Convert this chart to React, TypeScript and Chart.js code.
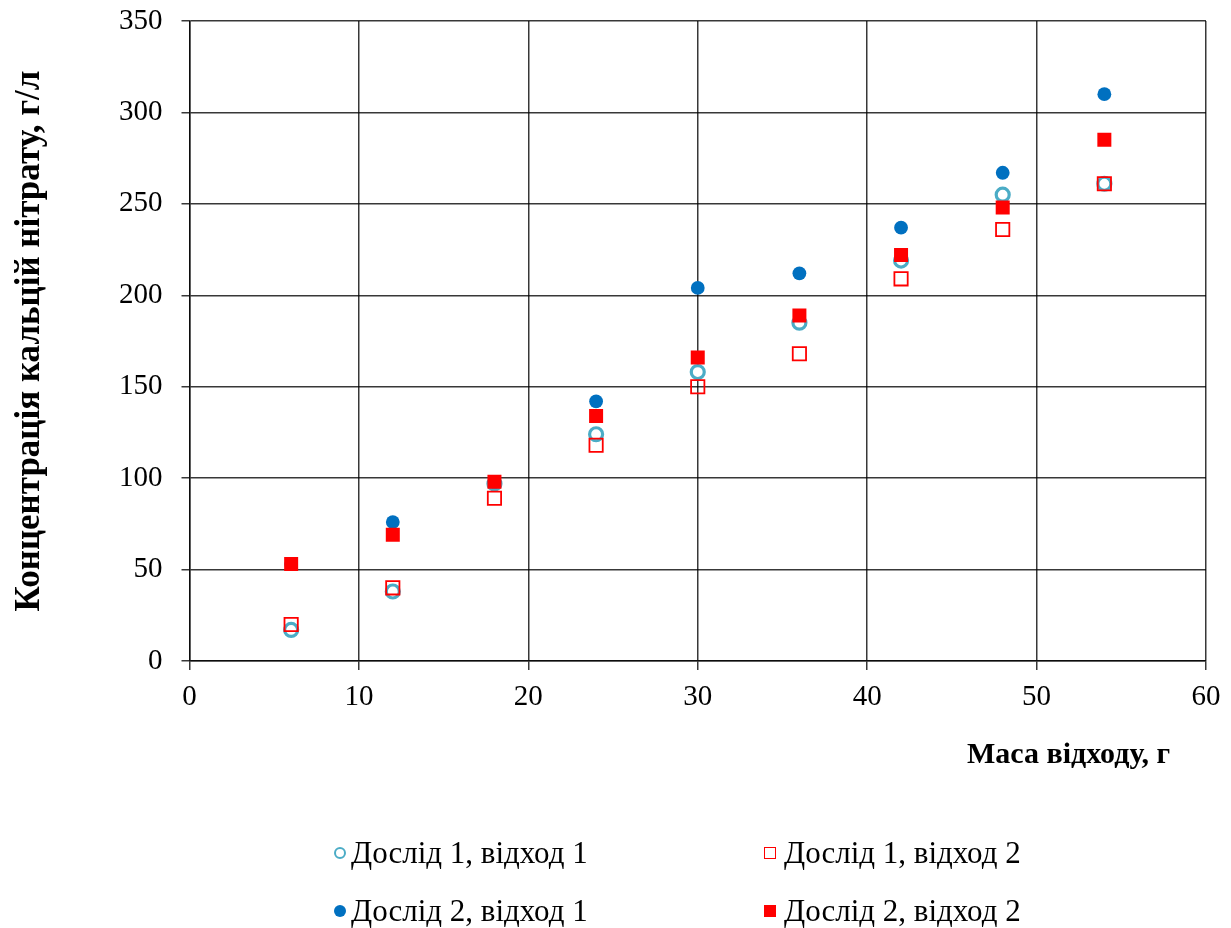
import React, { useEffect, useRef } from 'react';
import { Chart, registerables } from 'chart.js';

Chart.register(...registerables);

// ---- data ----
const xValues = [6, 12, 18, 24, 30, 36, 42, 48, 54];
const exp1Waste1 = [17, 38, 97, 124, 158, 185, 219, 255, 261];
const exp1Waste2 = [20, 40, 89, 118, 150, 168, 209, 236, 261];
const exp2Waste1 = [53, 76, 98, 142, 204, 212, 237, 267, 310];
const exp2Waste2 = [53, 69, 98, 134, 166, 189, 222, 248, 285];
const seriesLabels = [
  'Дослід 1, відход 1',
  'Дослід 1, відход 2',
  'Дослід 2, відход 1',
  'Дослід 2, відход 2',
];
const xTitle = 'Маса відходу, г';
const yTitle = 'Концентрація кальцій нітрату, г/л';
const xMin = 0;
const xMax = 60;
const xStep = 10;
const yMin = 0;
const yMax = 350;
const yStep = 50;

// ---- styles ----
const FONT = '"Liberation Serif", "Times New Roman", serif';
const TEAL = '#4BACC6';
const BLUE = '#0070C0';
const RED = '#FF0000';
const GRID = 'rgba(0,0,0,0.78)';

const seriesStyles = [
  { pointStyle: 'circle', radius: 6.5, borderWidth: 3.2, borderColor: TEAL, backgroundColor: '#ffffff', order: 4 },
  { pointStyle: 'rect', radius: 9.4, borderWidth: 1.8, borderColor: RED, backgroundColor: 'rgba(0,0,0,0)', order: 3 },
  { pointStyle: 'circle', radius: 6.9, borderWidth: 0, borderColor: BLUE, backgroundColor: BLUE, order: 2 },
  { pointStyle: 'rect', radius: 9.9, borderWidth: 0, borderColor: RED, backgroundColor: RED, order: 1 },
];
const seriesValues = [exp1Waste1, exp1Waste2, exp2Waste1, exp2Waste2];

const legendMarkers: React.CSSProperties[] = [
  { width: 12, height: 12, border: `2.8px solid ${TEAL}`, borderRadius: '50%', boxSizing: 'border-box' },
  { width: 12, height: 12, border: `1.5px solid ${RED}`, boxSizing: 'border-box' },
  { width: 12, height: 12, background: BLUE, borderRadius: '50%' },
  { width: 12, height: 12, background: RED },
];
const legendPos = [
  { left: 334, top: 853, gap: 5 },
  { left: 764, top: 853, gap: 8 },
  { left: 334, top: 911, gap: 5 },
  { left: 764, top: 911, gap: 8 },
];

const xTitlePlugin = {
  id: 'xTitleRight',
  afterDraw(chart: any) {
    const { ctx, chartArea } = chart;
    ctx.save();
    ctx.font = `bold 30px ${FONT}`;
    ctx.fillStyle = '#000';
    ctx.textAlign = 'right';
    ctx.textBaseline = 'middle';
    ctx.fillText(xTitle, chartArea.right - 36, chartArea.bottom + 94);
    ctx.restore();
  },
};

export default function App() {
  const canvasRef = useRef<HTMLCanvasElement | null>(null);

  useEffect(() => {
    if (!canvasRef.current) return;
    const datasets = seriesLabels.map((label, i) => {
      const s = seriesStyles[i];
      return {
        label,
        data: xValues.map((x, j) => ({ x, y: seriesValues[i][j] })),
        pointStyle: s.pointStyle,
        pointRadius: s.radius,
        pointHoverRadius: s.radius,
        pointBorderWidth: s.borderWidth,
        pointBorderColor: s.borderColor,
        pointBackgroundColor: s.backgroundColor,
        borderColor: s.borderColor,
        backgroundColor: s.backgroundColor,
        showLine: false,
        order: s.order,
      };
    });

    const chart = new Chart(canvasRef.current, {
      type: 'scatter',
      data: { datasets: datasets as any },
      options: {
        animation: false,
        responsive: true,
        maintainAspectRatio: false,
        layout: { padding: { top: 21, right: 25, left: 0, bottom: 0 } },
        plugins: {
          legend: { display: false },
          tooltip: { enabled: false },
        },
        scales: {
          x: {
            type: 'linear',
            min: xMin,
            max: xMax,
            afterFit: (axis: any) => {
              axis.height = 928 - 661;
            },
            ticks: {
              stepSize: xStep,
              color: '#000',
              padding: 10,
              font: { family: FONT, size: 29 },
            },
            grid: { color: GRID, lineWidth: 1.5, tickLength: 9, tickColor: GRID },
            border: { display: true, color: GRID, width: 1.5 },
          },
          y: {
            type: 'linear',
            min: yMin,
            max: yMax,
            afterFit: (axis: any) => {
              axis.width = 189.5;
              axis.paddingTop = 0;
              axis.paddingBottom = 0;
            },
            ticks: {
              stepSize: yStep,
              color: '#000',
              padding: 19,
              font: { family: FONT, size: 29 },
            },
            grid: { color: GRID, lineWidth: 1.5, tickLength: 8, tickColor: GRID },
            border: { display: true, color: GRID, width: 1.5 },
            title: {
              display: true,
              text: yTitle,
              color: '#000',
              padding: { top: 9, bottom: 0 },
              font: { family: FONT, size: 35, weight: 'bold' },
            },
          },
        },
      },
      plugins: [xTitlePlugin],
    });
    return () => chart.destroy();
  }, []);

  return (
    <div
      style={{
        position: 'fixed',
        left: 0,
        top: 0,
        width: 1231,
        height: 928,
        overflow: 'hidden',
        background: '#fff',
      }}
    >
      <canvas ref={canvasRef} />
      {seriesLabels.map((label, i) => (
        <div
          key={label}
          style={{
            position: 'absolute',
            left: legendPos[i].left,
            top: legendPos[i].top - 18,
            height: 36,
            display: 'flex',
            alignItems: 'center',
            gap: legendPos[i].gap,
            fontFamily: FONT,
            fontSize: 31,
            lineHeight: '36px',
            color: '#000',
            whiteSpace: 'nowrap',
          }}
        >
          <span style={{ display: 'inline-block', ...legendMarkers[i] }} />
          <span>{label}</span>
        </div>
      ))}
    </div>
  );
}
